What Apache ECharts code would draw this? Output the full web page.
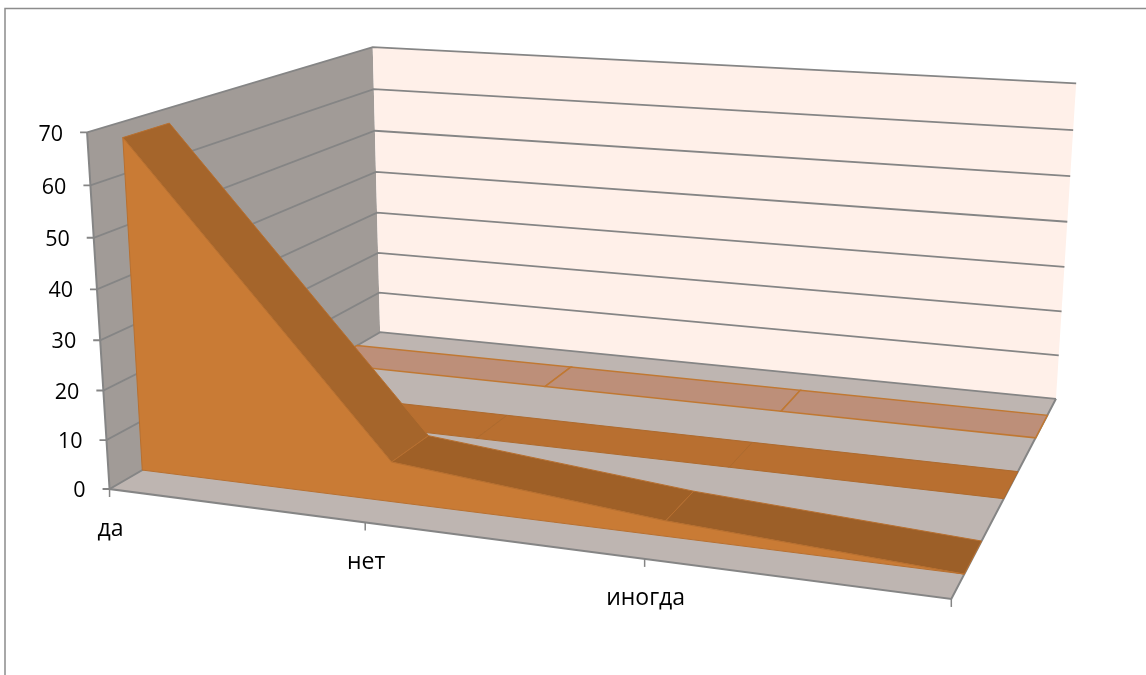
<!DOCTYPE html>
<html><head><meta charset="utf-8">
<style>html,body{margin:0;padding:0;background:#fff}#c{width:1146px;height:675px}</style>
<script src="https://cdn.jsdelivr.net/npm/echarts@6/dist/echarts.min.js"></script>
</head><body><div id="c"></div>
<script>
// ---- chart data ----
const categories = ['да', 'нет', 'иногда', ''];
const valueTicks = [0, 10, 20, 30, 40, 50, 60, 70];
const seriesFront = [67, 8, 3, 0];
const seriesMiddle = [0, 0, 0, 0];
const seriesBack = [0, 0, 0, 0];

// ---- 3D camera: unit-cube points and where they land on the page ----
const cameraAnchors = [
  [0,0,0, 110,489],[0,1,0, 87,133],[0,0,1, 380,333],[0,1,1, 373,46],
  [1,0,0, 952,600],[1,0,1, 1056,398],[1,1,1, 1076,84],
  [0,3/7,0, 100,340],[1/3,0,0, 365,522],[2/3,0,0, 644,558],[0,3/7,1, 377,213]
];
// depth bands of the three ribbons (0 = front, 1 = back)
const depthBands = [[0.098,0.238],[0.435,0.573],[0.76,0.895]];

function solveCamera(anch){
  const n=11, A=[...Array(n)].map(()=>Array(n+1).fill(0));
  const add=(r,b)=>{for(let i=0;i<n;i++){for(let j=0;j<n;j++)A[i][j]+=r[i]*r[j];A[i][n]+=r[i]*b;}};
  anch.forEach(([x,y,z,u,v])=>{
    add([x,y,z,1,0,0,0,0,-u*x,-u*y,-u*z],u);
    add([0,0,0,0,x,y,z,1,-v*x,-v*y,-v*z],v);
  });
  for(let c=0;c<n;c++){
    let p=c;for(let r=c+1;r<n;r++)if(Math.abs(A[r][c])>Math.abs(A[p][c]))p=r;
    [A[c],A[p]]=[A[p],A[c]];
    for(let r=0;r<n;r++){if(r===c)continue;const f=A[r][c]/A[c][c];for(let k=c;k<=n;k++)A[r][k]-=f*A[c][k];}
  }
  return A.map((row,i)=>row[n]/row[i]);
}
const cam=solveCamera(cameraAnchors);
function project(x,y,z){
  const w=cam[8]*x+cam[9]*y+cam[10]*z+1;
  return [(cam[0]*x+cam[1]*y+cam[2]*z+cam[3])/w,(cam[4]*x+cam[5]*y+cam[6]*z+cam[7])/w];
}
// data value -> library scale -> unit cube -> page
function pt(api,params,cat,val,depth){
  const c=api.coord([cat,val]), s=params.coordSys;
  return project((c[0]-s.x)/s.width, 1-(c[1]-s.y)/s.height, depth);
}
const xMax=categories.length-1, yMax=valueTicks[valueTicks.length-1];
const VALUE_FONT='21.5px "Open Sans", sans-serif';
const CAT_FONT='23px "Open Sans", sans-serif';
const GRID='#858585';

const planes=[
  {fill:'#A19B97',c:[[0,0,0],[0,yMax,0],[0,yMax,1],[0,0,1]]},
  {fill:'#FFF0E9',c:[[0,0,1],[0,yMax,1],[xMax,yMax,1],[xMax,0,1]]},
  {fill:'#BEB5B1',c:[[0,0,0],[0,0,1],[xMax,0,1],[xMax,0,0]]}
];
const ribbonColours=[
  {face:'#C97B35',top:['#A5652B','#9F6027','#9C5F28'],edge:'#B87030',width:1},
  {top:['#B86F30','#B86F30','#B86F30'],edge:'#AE6A2D',width:1},
  {top:['#BD8F79','#BD8F79','#BD8F79'],edge:'#C07832',width:1.5}
];
function ribbonData(values,idx){
  return values.slice(0,-1).map((v,i)=>[i,v,values[i+1],idx]);
}
function renderSegment(params,api){
  const i=api.value(0), v0=api.value(1), v1=api.value(2), k=api.value(3);
  const [z0,z1]=depthBands[k], col=ribbonColours[k];
  return {type:'polygon',shape:{points:[pt(api,params,i,v0,z0),pt(api,params,i+1,v1,z0),pt(api,params,i+1,v1,z1),pt(api,params,i,v0,z1)]},
    style:{fill:col.top[i],stroke:col.edge,lineWidth:col.width}};
}
const commonCustom={type:'custom',coordinateSystem:'cartesian2d',silent:true,animation:false,clip:false,encode:{x:0,y:1}};
const chart=echarts.init(document.getElementById('c'),null,{renderer:'canvas'});
chart.setOption({
  animation:false,backgroundColor:'#ffffff',
  grid:{left:0,top:0,right:0,bottom:0,containLabel:false},
  xAxis:{type:'value',min:0,max:xMax,show:false},
  yAxis:{type:'value',min:0,max:yMax,interval:10,show:false},
  graphic:[{type:'polyline',silent:true,shape:{points:[[5,675],[5,8.5],[1146,8.5]]},style:{fill:'none',stroke:'#8c8c8c',lineWidth:1.5}}],
  series:[
    Object.assign({},commonCustom,{name:'planes',z:1,data:planes.map((p,i)=>[0,0,i]),
      renderItem(params,api){const p=planes[api.value(2)];
        return {type:'polygon',shape:{points:p.c.map(c=>pt(api,params,c[0],c[1],c[2]))},style:{fill:p.fill}};}}),
    Object.assign({},commonCustom,{name:'gridlines',z:2,data:valueTicks.map(v=>[0,v]),
      renderItem(params,api){const v=api.value(1);
        const a=pt(api,params,0,v,0),b=pt(api,params,0,v,1),c=pt(api,params,xMax,v,1);
        const tick=[a[0]-7,a[1]];
        return {type:'group',children:[
          {type:'polyline',shape:{points:[tick,a,b,c]},style:{fill:'none',stroke:GRID,lineWidth:1.8}},
          {type:'text',style:{text:String(v),x:a[0]-24,y:a[1]+2,align:'right',verticalAlign:'middle',font:VALUE_FONT,fill:'#000'}}
        ]};}}),
    Object.assign({},commonCustom,{name:'frame',z:3,data:[[0,0]],
      renderItem(params,api){
        return {type:'group',children:[
          {type:'polyline',shape:{points:[pt(api,params,0,yMax,0),pt(api,params,0,0,0),pt(api,params,xMax,0,0),pt(api,params,xMax,0,1)]},style:{fill:'none',stroke:GRID,lineWidth:2}}
        ]};}}),
    Object.assign({},commonCustom,{name:'categories',z:3,data:categories.map((c,i)=>[i,0]),
      renderItem(params,api){const i=api.value(0),a=pt(api,params,i,0,0);
        return {type:'group',children:[
          {type:'line',shape:{x1:a[0],y1:a[1],x2:a[0],y2:a[1]+8},style:{stroke:GRID,lineWidth:1.5}},
          {type:'text',style:{text:categories[i],x:a[0]+1,y:a[1]+40,align:'center',verticalAlign:'middle',font:CAT_FONT,fill:'#000'}}
        ]};}}),
    Object.assign({},commonCustom,{name:'back',z:4,data:ribbonData(seriesBack,2),renderItem:renderSegment}),
    Object.assign({},commonCustom,{name:'middle',z:5,data:ribbonData(seriesMiddle,1),renderItem:renderSegment}),
    Object.assign({},commonCustom,{name:'front top',z:6,data:ribbonData(seriesFront,0),renderItem:renderSegment}),
    Object.assign({},commonCustom,{name:'front face',z:7,data:[[0,0]],
      renderItem(params,api){
        const z=depthBands[0][0];
        const pts=[pt(api,params,0,0,z)];
        seriesFront.forEach((v,i)=>pts.push(pt(api,params,i,v,z)));
        return {type:'polygon',shape:{points:pts},style:{fill:ribbonColours[0].face,stroke:ribbonColours[0].edge,lineWidth:1}};
      }})
  ]
});
</script></body></html>
